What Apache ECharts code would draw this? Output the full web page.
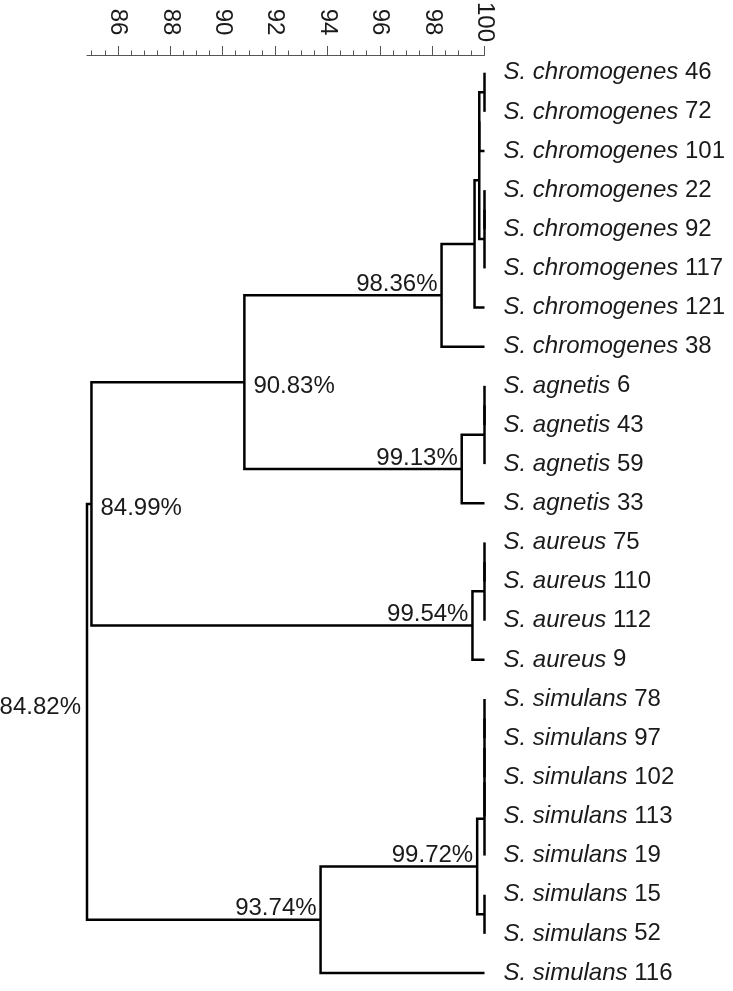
<!DOCTYPE html>
<html>
<head>
<meta charset="utf-8">
<script src="https://cdn.jsdelivr.net/npm/echarts@6/dist/echarts.min.js"></script>
<style>
  html, body { margin: 0; padding: 0; background: #fff; }
  #chart { width: 733px; height: 991px; }
</style>
</head>
<body>
<div id="chart"></div>
<script>
// leaves, top to bottom
const leafSpecies = [
  'S. chromogenes', 'S. chromogenes', 'S. chromogenes', 'S. chromogenes',
  'S. chromogenes', 'S. chromogenes', 'S. chromogenes', 'S. chromogenes',
  'S. agnetis', 'S. agnetis', 'S. agnetis', 'S. agnetis',
  'S. aureus', 'S. aureus', 'S. aureus', 'S. aureus',
  'S. simulans', 'S. simulans', 'S. simulans', 'S. simulans',
  'S. simulans', 'S. simulans', 'S. simulans', 'S. simulans'
]
const leafStrains = [46, 72, 101, 22, 92, 117, 121, 38, 6, 43, 59, 33, 75, 110, 112, 9, 78, 97, 102, 113, 19, 15, 52, 116]
const leafIndex = [0, 1, 2, 3, 4, 5, 6, 7, 8, 9, 10, 11, 12, 13, 14, 15, 16, 17, 18, 19, 20, 21, 22, 23]

// joins: leaves are 0..23, each join makes node 24, 25, ...
const merges = [
  [0, 1], [24, 2], [3, 4], [26, 5], [25, 27], [28, 6], [29, 7],
  [8, 9], [31, 10], [32, 11], [30, 33],
  [12, 13], [35, 14], [36, 15], [34, 37],
  [16, 17], [39, 18], [40, 19], [41, 20], [21, 22], [42, 43], [44, 23],
  [38, 45]
]
// similarity (%) of each join
const similarity = [
  100, 99.8, 100, 100, 99.8, 99.62, 98.36,
  100, 100, 99.13, 90.83,
  100, 100, 99.54, 84.99,
  100, 100, 100, 100, 100, 99.72, 93.74,
  84.82
]
// where the % label goes (null = no label)
const labelSide = [
  null, null, null, null, null, null, 'above',
  null, null, 'above', 'right',
  null, null, 'above', 'right',
  null, null, null, null, null, 'above', 'above',
  'left'
]

const majorTicks = [86, 88, 90, 92, 94, 96, 98, 100]
const minorTicks = [85, 85.5, 86, 86.5, 87, 87.5, 88, 88.5, 89, 89.5, 90, 90.5, 91, 91.5, 92, 92.5,
  93, 93.5, 94, 94.5, 95, 95.5, 96, 96.5, 97, 97.5, 98, 98.5, 99, 99.5, 100]

const FONT = '"Liberation Sans", Arial, Helvetica, sans-serif'

// node positions: x = similarity, y = mean of the two children (leaf index units)
const pos = leafIndex.map(i => [100, i])
merges.forEach((m, k) => {
  pos.push([similarity[k], (pos[m[0]][1] + pos[m[1]][1]) / 2])
})
const joinData = merges.map((m, k) => [
  pos[24 + k][0], pos[24 + k][1],
  pos[m[0]][0], pos[m[0]][1],
  pos[m[1]][0], pos[m[1]][1],
  k
])

const chart = echarts.init(document.getElementById('chart'))

const renderJoin = (params, api) => {
  const p = api.coord([api.value(0), api.value(1)])
  const a = api.coord([api.value(2), api.value(3)])
  const b = api.coord([api.value(4), api.value(5)])
  const k = api.value(6)
  const children = [{
    type: 'polyline',
    shape: { points: [[a[0], a[1]], [p[0], a[1]], [p[0], b[1]], [b[0], b[1]]] },
    style: { stroke: '#000', lineWidth: 2.5, fill: null, lineJoin: 'miter', lineCap: 'butt' }
  }]
  const side = labelSide[k]
  if (side) {
    let x = p[0], y = p[1], align = 'right'
    if (side === 'above') { x -= 4; y -= 11 }
    if (side === 'right') { x += 9; y += 4; align = 'left' }
    if (side === 'left') { x -= 6; y -= 4 }
    children.push({
      type: 'text',
      style: {
        text: similarity[k].toFixed(2) + '%',
        x, y, align, verticalAlign: 'middle',
        fontSize: 24, fontFamily: FONT, fill: '#1a1a1a'
      }
    })
  }
  return { type: 'group', children }
}

chart.setOption({
  animation: false,
  // grid top is the ruler line; y range starts a bit above the first leaf
  grid: { left: 87, right: 248.5, top: 55, bottom: 18, outerBoundsMode: 'none' },
  xAxis: [{
    type: 'value',
    min: 84.82,
    max: 100,
    position: 'top',
    axisLine: { onZero: false, lineStyle: { color: '#555', width: 1 } },
    axisTick: { customValues: majorTicks, length: 9, lineStyle: { color: '#555' } },
    axisLabel: {
      customValues: majorTicks,
      rotate: 90,
      margin: 33,
      align: 'center',
      verticalAlign: 'middle',
      fontSize: 24,
      fontFamily: FONT,
      color: '#1a1a1a'
    },
    splitLine: { show: false }
  }, {
    type: 'value',
    min: 84.82,
    max: 100,
    position: 'top',
    axisLine: { show: false, onZero: false },
    axisTick: { customValues: minorTicks, length: 4.5, lineStyle: { color: '#555' } },
    axisLabel: { show: false },
    splitLine: { show: false }
  }],
  yAxis: {
    type: 'value',
    min: -0.452,
    max: 23,
    inverse: true,
    position: 'right',
    axisLine: { show: false },
    axisTick: { show: false },
    splitLine: { show: false },
    axisLabel: {
      customValues: leafIndex,
      margin: 19,
      formatter: v => '{sp|' + leafSpecies[v] + '}{num| ' + leafStrains[v] + '}',
      rich: {
        sp: { fontStyle: 'italic', fontSize: 24, fontFamily: FONT, color: '#1a1a1a' },
        num: { fontSize: 24, fontFamily: FONT, color: '#1a1a1a' }
      }
    }
  },
  series: [{
    type: 'custom',
    xAxisIndex: 0,
    renderItem: renderJoin,
    data: joinData
  }]
})

window.addEventListener('resize', () => chart.resize())
</script>
</body>
</html>
